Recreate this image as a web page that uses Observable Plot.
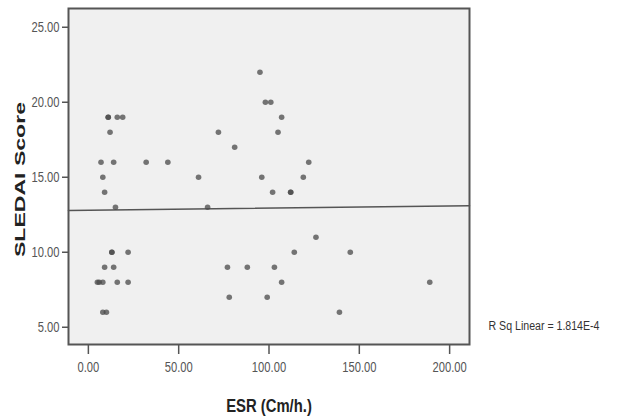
<!DOCTYPE html>
<html>
<head>
<meta charset="utf-8">
<script src="https://cdn.jsdelivr.net/npm/d3@7"></script>
<script src="https://cdn.jsdelivr.net/npm/@observablehq/plot@0.6"></script>
<style>
  html, body { margin: 0; padding: 0; background: #fff; }
  svg { font-family: "Liberation Sans", Arial, sans-serif; }
</style>
</head>
<body>
<div id="chart"></div>
<script>
// Data
const esr =    [11,11,16,19,12, 7,14,32,44, 8,61, 9,72,15,66,13,13,22, 9,14, 5, 6, 8,16,22, 8,10,95,98,101,107,105,81,122,96,119,102,112,112,126,114,145,77,88,103,107,189,78,99,139];
const sledai = [19,19,19,19,18,16,16,16,16,15,15,14,18,13,13,10,10,10, 9, 9, 8, 8, 8, 8, 8, 6, 6,22,20,20, 19, 18,17, 16,15, 15, 14, 14, 14, 11, 10, 10, 9, 9,  9,  8,  8, 7, 7,  6];
const xTicks = [0, 50, 100, 150, 200];
const yTicks = [5, 10, 15, 20, 25];
const xDomain = [-11, 211];
const yDomain = [3.85, 26.25];
// fitted line
const fitIntercept = 12.8;
const fitSlope = 0.0014;
const rsqLabel = "R Sq Linear = 1.814E-4";
const xLabel = "ESR (Cm/h.)";
const yLabel = "SLEDAI Score";

const points = esr.map((x, i) => ({x, y: sledai[i]}));
const fitLine = xDomain.map(x => ({x, y: fitIntercept + fitSlope * x}));

const chart = Plot.plot({
  width: 617,
  height: 418,
  marginLeft: 68,
  marginRight: 148,
  marginTop: 8,
  marginBottom: 74,
  x: {domain: xDomain},
  y: {domain: yDomain},
  marks: [
    Plot.frame({fill: "#f0f0f0"}),
    Plot.line(fitLine, {x: "x", y: "y", stroke: "#555", strokeWidth: 1.6}),
    Plot.dot(points, {x: "x", y: "y", r: 2.8, fill: "#4a4a4a", fillOpacity: 0.75, stroke: "none"}),
    Plot.frame({stroke: "#555", strokeWidth: 2}),
    Plot.axisX({ticks: xTicks, tickFormat: d => d.toFixed(2), tickSize: 10, tickPadding: 8,
      label: null, fontSize: 14, color: "#555", strokeWidth: 1.5}),
    Plot.axisY({ticks: yTicks, tickFormat: d => d.toFixed(2), tickSize: 6, tickPadding: 3,
      label: null, fontSize: 14, color: "#555", strokeWidth: 1.5}),
    Plot.text([xLabel], {text: d => d, frameAnchor: "bottom", dy: 61, lineAnchor: "middle",
      textAnchor: "middle", fontWeight: "bold", fontSize: 19, fill: "#222"}),
    Plot.text([yLabel], {text: d => d, frameAnchor: "left", dx: -48, dy: 3, rotate: -90,
      textAnchor: "middle", lineAnchor: "middle", fontWeight: "bold", fontSize: 15, fill: "#222"}),
    Plot.text([rsqLabel], {text: d => d, frameAnchor: "bottom-right", dx: 19, dy: -18,
      textAnchor: "start", lineAnchor: "middle", fontSize: 12, fill: "#333"})
  ]
});
document.getElementById("chart").appendChild(chart);

// narrow the texts the way the reference's squeezed lettering looks
chart.querySelectorAll("text").forEach(el => {
  const t = el.textContent.trim();
  let target = null;
  const L = el.getComputedTextLength();
  if (/^\d+\.00$/.test(t)) target = L * 0.8;
  else if (t === xLabel) target = L * 0.78;
  else if (t === yLabel) target = 155;
  else if (t === rsqLabel) target = 111;
  if (target != null && L > 0) {
    el.setAttribute("textLength", target);
    el.setAttribute("lengthAdjust", "spacingAndGlyphs");
  }
});
</script>
</body>
</html>
